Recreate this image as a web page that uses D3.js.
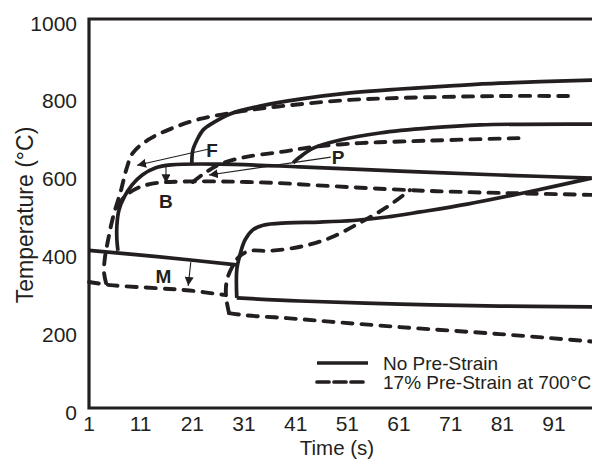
<!DOCTYPE html>
<html><head><meta charset="utf-8">
<script src="https://cdn.jsdelivr.net/npm/d3@7"></script>
<style>html,body{margin:0;padding:0;background:#fff;overflow:hidden}svg{display:block}</style>
</head><body>
<svg id="c" width="592" height="460"></svg>
<script>
// ---- data (time s, temperature °C) ----
const xTicks = [1, 11, 21, 31, 41, 51, 61, 71, 81, 91];
const yTicks = [0, 200, 400, 600, 800, 1000];

// No Pre-Strain (solid)
const solidF = [[20.9,630],[21.1,663],[21.9,689],[23.1,715],[25.0,733],[28.3,756],[34.1,776],[41.8,794],[51.5,810],[61.2,820],[70.9,828],[80.5,835],[98.3,843],[101,844]];
const solidP = [[40.5,630],[41.8,645],[44.4,668],[49.6,689],[57.3,707],[67.0,720],[76.7,728],[98.3,730],[101,730]];
const solidB = [[6.6,404],[6.4,432],[6.4,470],[6.8,509],[7.8,542],[9.3,573],[11.3,599],[13.8,617],[16.9,625],[26.0,627],[41.8,620],[61.2,609],[80.5,599],[98.3,591]];
const solidB2 = [[29.6,283],[29.6,355],[30.2,393],[31.2,432],[32.7,458],[34.7,470],[39.3,476],[45.7,478],[52.1,482],[58.7,491],[65.1,504],[74.2,524],[86.9,558],[98.3,591]];
const solidLow = [[29.6,283],[41.8,275],[61.2,267],[80.5,262],[98.3,260],[101,259]];
const solidM = [[1,405],[14.2,389],[29.6,368]];

// 17% Pre-Strain at 700°C (dashed)
const dashF = [[4.3,321],[3.9,350],[4.1,388],[4.7,432],[5.6,488],[7.2,560],[8.2,612],[9.5,656],[12.4,689],[16.7,717],[22.5,743],[32.2,766],[41.8,781],[51.5,792],[61.2,797],[80.5,802],[94.1,802]];
const dashP = [[21.1,581],[23.4,604],[26.4,627],[31.2,645],[38.0,658],[44.4,671],[53.4,681],[61.2,685],[70.9,689],[85.0,694]];
const dashB = [[6.6,517],[7.8,542],[10.5,566],[13.8,578],[18.6,582],[28.3,582],[38.0,578],[44.4,573],[63.1,560],[74.2,555],[98.0,548],[101,547]];
const dashB2 = [[28.1,244],[27.5,290],[27.7,329],[28.7,362],[30.2,391],[32.2,404],[36.0,404],[42.4,416],[47.6,437],[53.4,476],[58.7,517],[63.1,560]];
const dashLow = [[28.1,244],[31.6,238],[39.3,231],[47.6,222],[61.2,208],[80.5,190],[98.3,171],[101,168]];
const dashM = [[1,324],[5.1,316],[14.2,308],[20.5,302],[27.5,290]];

// annotations: arrows [from, to] and labels
const arrows = [
  [[24.0,665],[10.3,624]],
  [[47.8,645],[24.2,599]],
  [[15.9,620],[15.9,578]],
  [[20.7,375],[20.2,314]]
];
const labels = [
  {t:"F", x:24.8, y:663},
  {t:"P", x:49.2, y:643},
  {t:"B", x:15.9, y:532},
  {t:"M", x:15.4, y:337}
];
const legendItems = ["No Pre-Strain", "17% Pre-Strain at 700°C"];

// ---- drawing ----
const ink = "#231f20";
const svg = d3.select("#c");
const x = d3.scaleLinear().domain([1, 101]).range([89, 605.7]);
const y = d3.scaleLinear().domain([0, 1000]).range([408, 19]);
const font = "'Liberation Sans', Arial, sans-serif";

const defs = svg.append("defs");
defs.append("marker").attr("id","ah").attr("viewBox","0 0 10 10").attr("refX",10).attr("refY",5)
  .attr("markerWidth",9).attr("markerHeight",9).attr("markerUnits","userSpaceOnUse").attr("orient","auto")
  .append("path").attr("d","M0,0 L10,5 L0,10 Z").attr("fill", ink);

// frame
svg.append("path").attr("d", `M${x(101)},${y(1000)} H${x(1)} V${y(0)} H${x(101)}`)
  .attr("fill","none").attr("stroke", ink).attr("stroke-width", 3.2);

const line = d3.line().x(d => x(d[0])).y(d => y(d[1])).curve(d3.curveCatmullRom.alpha(0.5));
const g = svg.append("g");
[solidF, solidP, solidB, solidB2, solidLow, solidM].forEach(s => {
  g.append("path").attr("d", line(s)).attr("fill","none").attr("stroke", ink)
    .attr("stroke-width", 3.7).attr("stroke-linejoin","round");
});
[dashF, dashP, dashB, dashB2, dashLow, dashM].forEach(s => {
  g.append("path").attr("d", line(s)).attr("fill","none").attr("stroke", ink)
    .attr("stroke-width", 3.9).attr("stroke-dasharray","10 9").attr("stroke-linecap","round");
});

// arrows
arrows.forEach(a => {
  svg.append("line").attr("x1", x(a[0][0])).attr("y1", y(a[0][1])).attr("x2", x(a[1][0])).attr("y2", y(a[1][1]))
    .attr("stroke", ink).attr("stroke-width", 1.1).attr("marker-end","url(#ah)");
});
labels.forEach(l => {
  svg.append("text").attr("x", x(l.x)).attr("y", y(l.y)).attr("text-anchor","middle")
    .attr("dominant-baseline","central").attr("font-family", font).attr("font-weight","bold")
    .attr("font-size", 19).attr("fill", ink).text(l.t);
});

// tick labels
svg.selectAll(".xt").data(xTicks).enter().append("text")
  .attr("x", d => x(d)).attr("y", 431).attr("text-anchor","middle")
  .attr("font-family", font).attr("font-size", 21).attr("fill", ink).text(d => d);
svg.selectAll(".yt").data(yTicks).enter().append("text")
  .attr("x", 77).attr("y", d => y(d) + 4).attr("text-anchor","end").attr("dominant-baseline","central")
  .attr("font-family", font).attr("font-size", 21).attr("fill", ink).text(d => d);

// axis titles
svg.append("text").attr("x", 337).attr("y", 455).attr("text-anchor","middle")
  .attr("font-family", font).attr("font-size", 20.5).attr("fill", ink).text("Time (s)");
svg.append("text").attr("transform","translate(25,215) rotate(-90)").attr("text-anchor","middle")
  .attr("dominant-baseline","central").attr("font-family", font).attr("font-size", 23).attr("fill", ink)
  .text("Temperature (°C)");

// legend
const lg = svg.append("g");
legendItems.forEach((t, i) => {
  const yy = 363 + i * 19;
  lg.append("line").attr("x1", 317).attr("x2", 368).attr("y1", yy).attr("y2", yy)
    .attr("stroke", ink).attr("stroke-width", 3.7)
    .attr("stroke-dasharray", i ? "12 5" : null).attr("stroke-linecap", i ? "round" : "butt");
  lg.append("text").attr("x", 383).attr("y", yy).attr("dominant-baseline","central")
    .attr("font-family", font).attr("font-size", 19).attr("fill", ink).text(t);
});
</script>
</body></html>
